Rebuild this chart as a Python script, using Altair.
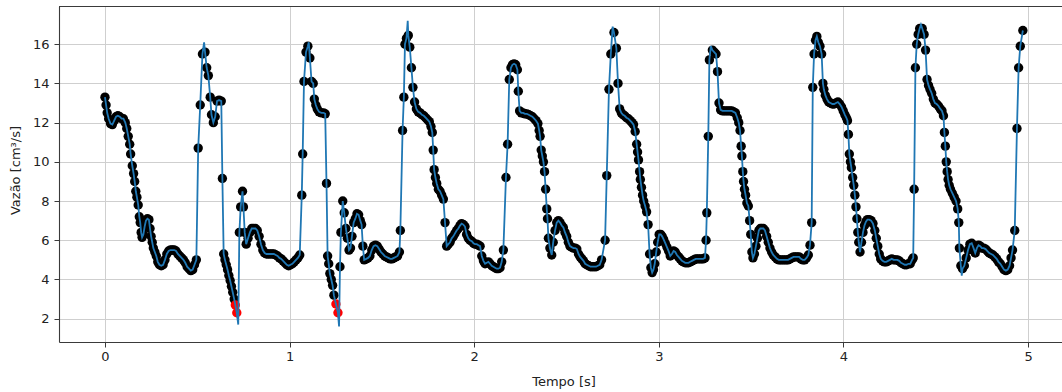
import altair as alt
import pandas as pd

# ---- data (tempo [s], vazao [cm3/s]) ----
t_a = [0.000, 0.006, 0.012, 0.020, 0.030, 0.040, 0.050, 0.060, 0.070, 0.080, 0.090, 0.100, 0.110, 0.118, 0.126,
       0.134, 0.139, 0.148, 0.155, 0.161, 0.167, 0.173, 0.180, 0.186, 0.191, 0.196, 0.201, 0.208, 0.215, 0.222,
       0.230, 0.238, 0.244, 0.250, 0.256, 0.262, 0.270, 0.278, 0.286, 0.295, 0.305, 0.315, 0.325, 0.335, 0.345,
       0.355, 0.365, 0.375, 0.385, 0.395, 0.405, 0.415, 0.425, 0.435, 0.445, 0.455, 0.465, 0.475, 0.485, 0.495]
v_a = [13.3, 12.9, 12.5, 12.2, 11.95, 11.9, 12.1, 12.3, 12.35, 12.3, 12.2, 12.2, 12.0, 11.7, 11.3,
       10.9, 10.4, 9.8, 9.4, 9.0, 8.5, 8.2, 7.8, 7.2, 6.9, 6.4, 6.15, 6.3, 6.7, 7.0,
       7.1, 7.05, 6.6, 6.2, 5.9, 5.6, 5.4, 5.2, 4.9, 4.75, 4.7, 4.75, 5.0, 5.3, 5.45,
       5.5, 5.5, 5.5, 5.45, 5.3, 5.2, 5.1, 5.0, 4.85, 4.65, 4.55, 4.45, 4.5, 4.75, 5.0]

t_b = [0.505, 0.516, 0.528, 0.542, 0.551, 0.560, 0.570, 0.577, 0.587, 0.597, 0.607, 0.618, 0.630, 0.636, 0.643,
       0.650, 0.657, 0.664, 0.671, 0.678, 0.685, 0.692, 0.700, 0.706, 0.714, 0.728, 0.735, 0.745, 0.750, 0.757,
       0.765, 0.775, 0.785, 0.795, 0.805, 0.815, 0.825, 0.835, 0.845, 0.855, 0.865, 0.875, 0.885, 0.895, 0.905,
       0.915, 0.925, 0.935, 0.945, 0.955, 0.965, 0.975, 0.985, 0.995, 1.005, 1.015, 1.025, 1.035, 1.045, 1.055]
v_b = [10.7, 12.9, 15.5, 15.6, 14.8, 14.4, 13.3, 12.4, 12.0, 12.3, 13.1, 13.15, 13.1, 9.15, 5.3,
       5.0, 4.75, 4.5, 4.2, 3.95, 3.65, 3.35, 3.0, 2.7, 2.3, 6.4, 7.7, 8.5, 7.7, 6.4,
       5.8, 6.1, 6.4, 6.6, 6.6, 6.6, 6.5, 6.2, 5.8, 5.5, 5.35, 5.3, 5.3, 5.3, 5.3,
       5.3, 5.25, 5.2, 5.1, 5.05, 4.95, 4.85, 4.75, 4.7, 4.75, 4.8, 4.9, 5.0, 5.1, 5.25]

t_c = [1.066, 1.071, 1.078, 1.089, 1.099, 1.110, 1.119, 1.128, 1.134, 1.142, 1.150, 1.160, 1.172, 1.184, 1.193,
       1.200, 1.206, 1.212, 1.218, 1.226, 1.233, 1.240, 1.251, 1.262, 1.273, 1.278, 1.288, 1.296, 1.305, 1.313,
       1.322, 1.330, 1.338, 1.347, 1.356, 1.365, 1.374, 1.383, 1.390, 1.397, 1.404, 1.415, 1.425, 1.435, 1.445,
       1.455, 1.465, 1.475, 1.485, 1.495, 1.505, 1.515, 1.525, 1.535, 1.545, 1.555, 1.565, 1.575, 1.585, 1.595]
v_c = [8.3, 10.4, 14.1, 15.6, 15.9, 15.3, 14.1, 14.0, 13.2, 12.9, 12.7, 12.55, 12.5, 12.5, 12.45,
       8.9, 5.2, 4.8, 4.3, 4.0, 3.7, 3.2, 2.75, 2.3, 4.65, 6.4, 8.0, 7.4, 6.6, 6.1,
       5.5, 5.6, 6.2, 6.9, 7.1, 7.35, 7.3, 7.0, 6.8, 5.7, 5.0, 5.05, 5.1, 5.2, 5.5,
       5.7, 5.75, 5.7, 5.55, 5.4, 5.3, 5.2, 5.15, 5.1, 5.05, 5.05, 5.1, 5.15, 5.2, 5.4]

t_d = [1.600, 1.612, 1.619, 1.625, 1.633, 1.643, 1.651, 1.660, 1.668, 1.677, 1.687, 1.697, 1.707, 1.717, 1.727,
       1.737, 1.747, 1.757, 1.766, 1.773, 1.778, 1.783, 1.790, 1.797, 1.806, 1.815, 1.824, 1.833, 1.842, 1.851,
       1.860, 1.869, 1.878, 1.887, 1.896, 1.905, 1.914, 1.923, 1.932, 1.941, 1.950, 1.959, 1.968, 1.977, 1.987,
       1.996, 2.005, 2.014, 2.023, 2.032, 2.041, 2.050, 2.059, 2.068, 2.077, 2.086, 2.095, 2.104, 2.113, 2.122,
       2.131, 2.140, 2.149, 2.158]
v_d = [6.5, 11.6, 13.3, 16.0, 16.3, 16.45, 15.85, 14.8, 13.8, 13.05, 12.7, 12.55, 12.5, 12.4, 12.35,
       12.25, 12.15, 12.05, 11.8, 11.5, 10.6, 9.6, 9.2, 8.9, 8.6, 8.5, 8.3, 8.1, 6.9, 5.7,
       5.8, 5.9, 6.1, 6.2, 6.35, 6.5, 6.6, 6.75, 6.85, 6.8, 6.7, 6.3, 6.1, 6.0, 5.95,
       5.85, 5.8, 5.8, 5.75, 5.7, 5.2, 4.95, 4.8, 4.85, 4.9, 4.8, 4.7, 4.65, 4.6, 4.55,
       4.55, 4.6, 4.9, 5.5]

t_e = [2.172, 2.181, 2.190, 2.199, 2.207, 2.216, 2.225, 2.234, 2.239, 2.246, 2.255, 2.265, 2.275, 2.285, 2.295,
       2.305, 2.315, 2.325, 2.335, 2.345, 2.352, 2.357, 2.363, 2.369, 2.375, 2.381, 2.387, 2.393, 2.397, 2.402,
       2.410, 2.420, 2.428, 2.438, 2.447, 2.456, 2.465, 2.474, 2.483, 2.492, 2.501, 2.510, 2.519, 2.528, 2.538,
       2.547, 2.556, 2.565, 2.574, 2.583, 2.592, 2.601, 2.610, 2.620, 2.630, 2.640, 2.650, 2.660, 2.670, 2.680,
       2.690]
v_e = [9.2, 10.9, 14.2, 14.8, 14.95, 15.0, 14.95, 14.7, 13.6, 12.6, 12.5, 12.5, 12.45, 12.45, 12.4,
       12.35, 12.3, 12.2, 12.1, 11.95, 11.6, 11.3, 10.6, 10.3, 10.0, 9.5, 8.6, 7.6, 7.1, 6.1,
       5.6, 5.25, 5.9, 6.5, 6.9, 7.0, 6.9, 6.75, 6.65, 6.4, 6.2, 5.9, 5.7, 5.65, 5.6,
       5.6, 5.55, 5.3, 5.15, 5.05, 4.95, 4.8, 4.75, 4.7, 4.65, 4.65, 4.65, 4.65, 4.7, 4.75,
       5.0]

t_f = [2.709, 2.718, 2.730, 2.740, 2.757, 2.770, 2.779, 2.788, 2.797, 2.806, 2.815, 2.825, 2.835, 2.845, 2.855,
       2.863, 2.872, 2.880, 2.885, 2.890, 2.896, 2.900, 2.906, 2.912, 2.918, 2.926, 2.934, 2.942, 2.950, 2.957,
       2.964, 2.971, 2.978, 2.986, 2.994, 3.002, 3.010, 3.018, 3.026, 3.035, 3.044, 3.053, 3.062, 3.071, 3.080,
       3.089, 3.098, 3.107, 3.116, 3.125, 3.134, 3.143, 3.152, 3.161, 3.170, 3.180, 3.190, 3.200, 3.210, 3.220,
       3.230, 3.240, 3.250]
v_f = [6.0, 9.3, 13.7, 15.5, 16.6, 15.8, 14.0, 12.7, 12.5, 12.4, 12.35, 12.25, 12.2, 12.1, 12.0,
       11.9, 11.55, 10.9, 10.5, 10.1, 9.5, 9.1, 8.7, 8.3, 8.0, 7.75, 7.45, 6.8, 5.3, 4.6,
       4.35, 4.5, 4.8, 5.4, 5.9, 6.3, 6.3, 6.2, 6.05, 5.85, 5.65, 5.45, 5.2, 5.3, 5.45,
       5.4, 5.25, 5.15, 5.05, 4.95, 4.9, 4.85, 4.85, 4.85, 4.9, 4.95, 5.0, 5.05, 5.05, 5.05,
       5.05, 5.05, 5.1]

t_g = [3.256, 3.260, 3.268, 3.274, 3.290, 3.300, 3.310, 3.318, 3.326, 3.335, 3.345, 3.355, 3.365, 3.375, 3.385,
       3.395, 3.405, 3.415, 3.425, 3.433, 3.440, 3.446, 3.450, 3.455, 3.459, 3.464, 3.470, 3.477, 3.485, 3.492,
       3.498, 3.504, 3.510, 3.518, 3.526, 3.534, 3.542, 3.550, 3.558, 3.566, 3.575, 3.584, 3.593, 3.602, 3.611,
       3.620, 3.630, 3.640, 3.650, 3.660, 3.670, 3.680, 3.690, 3.700, 3.710, 3.720, 3.730, 3.740, 3.750, 3.760,
       3.770, 3.780, 3.790, 3.800, 3.810]
v_g = [6.0, 7.4, 11.3, 15.2, 15.7, 15.6, 15.5, 14.6, 13.0, 12.65, 12.6, 12.6, 12.6, 12.6, 12.6,
       12.6, 12.55, 12.5, 12.25, 12.0, 11.6, 10.8, 10.3, 9.5, 9.0, 8.6, 8.3, 7.9, 7.75, 7.0,
       6.3, 5.4, 5.1, 5.3, 5.7, 6.1, 6.5, 6.6, 6.6, 6.6, 6.5, 6.2, 5.9, 5.6, 5.4,
       5.25, 5.15, 5.05, 5.0, 5.0, 5.0, 5.0, 5.0, 5.0, 5.05, 5.1, 5.15, 5.15, 5.15, 5.15,
       5.05, 5.0, 5.0, 5.1, 5.25]

t_h = [3.819, 3.828, 3.834, 3.841, 3.849, 3.856, 3.864, 3.873, 3.882, 3.889, 3.894, 3.902, 3.911, 3.920, 3.930,
       3.940, 3.950, 3.960, 3.970, 3.980, 3.990, 3.999, 4.008, 4.016, 4.022, 4.027, 4.032, 4.038, 4.043, 4.050,
       4.056, 4.062, 4.068, 4.073, 4.078, 4.083, 4.090, 4.098, 4.106, 4.114, 4.122, 4.130, 4.140, 4.150, 4.160,
       4.170, 4.178, 4.186, 4.194, 4.202, 4.212, 4.222, 4.232, 4.242, 4.252, 4.262, 4.272, 4.282, 4.292, 4.302,
       4.312, 4.322, 4.332, 4.342, 4.352, 4.362, 4.372, 4.378]
v_h = [5.75, 6.9, 13.8, 15.5, 16.2, 16.4, 16.1, 15.9, 15.5, 14.0, 13.7, 13.4, 13.2, 13.05, 13.0,
       12.95, 12.95, 13.0, 13.05, 12.95, 12.8, 12.6, 12.4, 12.25, 12.1, 11.4, 10.4, 10.0, 9.7, 9.2,
       8.8, 8.3, 7.7, 7.1, 6.4, 5.9, 5.4, 5.9, 6.4, 6.75, 6.95, 7.05, 7.05, 7.0, 6.85,
       6.5, 6.1, 5.7, 5.3, 5.05, 4.95, 4.9, 4.9, 4.95, 5.0, 5.05, 5.0, 5.0, 5.0, 4.95,
       4.85, 4.8, 4.75, 4.75, 4.8, 4.8, 5.0, 5.1]

t_i = [4.383, 4.390, 4.397, 4.405, 4.413, 4.427, 4.437, 4.445, 4.453, 4.461, 4.469, 4.478, 4.487, 4.496, 4.505,
       4.515, 4.525, 4.534, 4.542, 4.547, 4.552, 4.557, 4.562, 4.567, 4.573, 4.580, 4.590, 4.600, 4.610, 4.619,
       4.625, 4.628, 4.636, 4.645, 4.655, 4.665, 4.675, 4.685, 4.695, 4.705, 4.714, 4.723, 4.732, 4.741, 4.750,
       4.760, 4.770, 4.780, 4.790, 4.800, 4.810, 4.820, 4.830, 4.840, 4.850, 4.860, 4.870, 4.880, 4.890, 4.900,
       4.908, 4.916, 4.928, 4.940, 4.949, 4.958, 4.972]
v_i = [8.6, 14.8, 16.0, 16.5, 16.8, 16.8, 16.5, 15.7, 14.2, 13.9, 13.7, 13.5, 13.2, 13.0, 12.95,
       12.85, 12.7, 12.6, 12.35, 11.5, 10.8, 10.0, 9.5, 9.1, 8.8, 8.6, 8.4, 8.2, 8.0, 7.6,
       6.9, 5.6, 4.7, 4.55, 4.7, 5.1, 5.5, 5.8, 5.85, 5.6, 5.35, 5.6, 5.75, 5.7, 5.6,
       5.6, 5.55, 5.45, 5.35, 5.3, 5.25, 5.15, 5.05, 4.9, 4.8, 4.65, 4.5, 4.45, 4.5, 4.7,
       5.1, 5.5, 6.5, 11.7, 14.8, 15.9, 16.7]

# points where the blue line overshoots the dots
t_linha_extra = [0.537, 0.722, 1.104, 1.268, 1.640, 2.750, 3.282, 4.420, 4.641]
v_linha_extra = [16.1, 1.7, 16.1, 1.6, 17.2, 16.9, 15.9, 17.0, 4.2]

limite_vermelho = 3.0

tempo_blocos = [t_a, t_b, t_c, t_d, t_e, t_f, t_g, t_h, t_i]
vazao_blocos = [v_a, v_b, v_c, v_d, v_e, v_f, v_g, v_h, v_i]
for tb, vb in zip(tempo_blocos, vazao_blocos):
    assert len(tb) == len(vb), (tb[0], len(tb), len(vb))

tempo = [t for b in tempo_blocos for t in b]
vazao = [v for b in vazao_blocos for v in b]

pontos = pd.DataFrame({"tempo": tempo, "vazao": vazao})
linha = pd.concat([pontos, pd.DataFrame({"tempo": t_linha_extra, "vazao": v_linha_extra})])
linha = linha.sort_values("tempo").reset_index(drop=True)

W, H = 1003, 336
X_DOM = [-0.249, 5.184]
Y_DOM = [0.81, 17.95]

xenc = alt.X("tempo:Q", scale=alt.Scale(domain=X_DOM, nice=False, zero=False),
             axis=alt.Axis(values=[0, 1, 2, 3, 4, 5], format="d", title="Tempo [s]",
                           titleX=504.5, titleY=43, titleBaseline="alphabetic", titleAnchor="start",
                           titleAlign="center"))
yenc = alt.Y("vazao:Q", scale=alt.Scale(domain=Y_DOM, nice=False, zero=False),
             axis=alt.Axis(values=[2, 4, 6, 8, 10, 12, 14, 16], format="d", title="Vazão [cm³/s]",
                           titleX=-39.5, titleY=164, titleBaseline="alphabetic", titleAngle=270,
                           titleAlign="center"))

dots = alt.Chart(pontos).mark_circle(size=88, opacity=1).encode(
    x=xenc, y=yenc,
    color=alt.condition(alt.datum.vazao < limite_vermelho, alt.value("#ff0000"), alt.value("#000000")),
)

line = alt.Chart(linha).mark_line(color="#1f77b4", strokeWidth=1.8).encode(
    x="tempo:Q", y="vazao:Q", order="tempo:Q"
)

top = alt.Chart(pd.DataFrame({"k": [0]})).mark_rule(color="#3a3a3a", strokeWidth=1.1).encode(
    x=alt.value(0), x2=alt.value(W), y=alt.value(0.5)
)

chart = alt.layer(dots, line, top).properties(
    width=W, height=H,
    autosize=alt.AutoSizeParams(type="none"),
    padding={"left": 59, "top": 6, "right": 0, "bottom": 50},
).configure_view(stroke=None).configure_axis(
    grid=True, gridColor="#cfcfcf", gridWidth=1.0,
    domainColor="#3a3a3a", domainWidth=1.1,
    tickColor="#3a3a3a", tickWidth=1.0, tickSize=5,
    labelFont="DejaVu Sans", labelFontSize=13, labelColor="#222222",
    titleFont="DejaVu Sans", titleFontSize=13, titleFontWeight="normal", titleColor="#222222",
).configure_axisX(labelPadding=3.5).configure_axisY(labelPadding=5)

chart.save("out.html", embed_options={"renderer": "svg", "actions": False})
